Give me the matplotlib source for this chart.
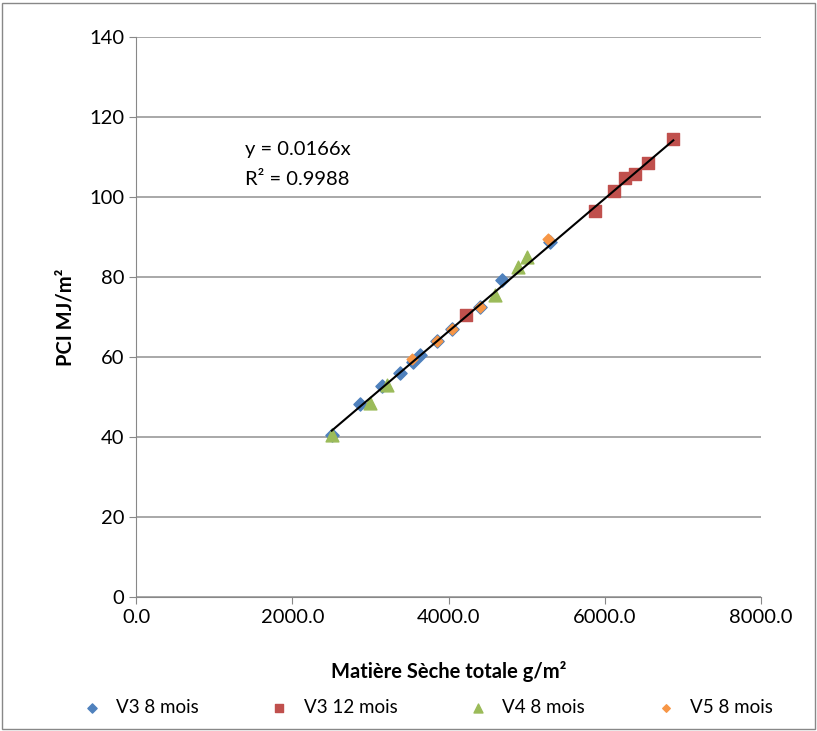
import matplotlib.pyplot as plt
from matplotlib.patches import Rectangle

plt.rcParams['font.family'] = ['Lato', 'DejaVu Sans']

# données
v3_8_x = [2509, 2867, 3145, 3379, 3546, 3635, 3849, 4041, 4403, 4681, 5299]
v3_8_y = [40.5, 48.2, 52.8, 56.1, 58.8, 60.5, 64.0, 67.0, 72.6, 79.2, 88.8]
v3_12_x = [4220, 5875, 6118, 6259, 6387, 6557, 6877]
v3_12_y = [70.4, 96.6, 101.5, 104.7, 105.7, 108.6, 114.4]
v4_8_x = [2505, 2995, 3209, 4595, 4890, 5001]
v4_8_y = [40.5, 48.4, 53.0, 75.5, 82.6, 85.1]
v5_8_x = [3529, 3849, 4041, 4403, 5277]
v5_8_y = [59.4, 64.1, 67.0, 72.6, 89.4]
slope = 0.0166

fig = plt.figure(figsize=(8.17, 7.31), dpi=100)
fig.patches.append(Rectangle((0.002, 0.003), 0.995, 0.993, transform=fig.transFigure,
                             fill=False, edgecolor='#888888', linewidth=1))
ax = fig.add_axes([0.1665, 0.1833, 0.765, 0.7661])

ax.scatter(v3_8_x, v3_8_y, marker='D', s=45, color='#4F81BD', label='V3 8 mois', zorder=3)
ax.scatter(v3_12_x, v3_12_y, marker='s', s=85, color='#C0504D', label='V3 12 mois', zorder=3)
ax.scatter(v4_8_x, v4_8_y, marker='^', s=85, color='#9BBB59', label='V4 8 mois', zorder=3)
ax.scatter(v5_8_x, v5_8_y, marker='D', s=30, color='#F79646', label='V5 8 mois', zorder=4)

all_x = v3_8_x + v3_12_x + v4_8_x + v5_8_x
xs = [min(all_x), max(all_x)]
ax.plot(xs, [slope * v for v in xs], color='black', linewidth=1.5, zorder=5)

ax.text(1400, 110.5, 'y = 0.0166x', fontsize=14.5)
ax.text(1400, 103, 'R² = 0.9988', fontsize=14.5)

ax.set_xlim(0, 8000)
ax.set_ylim(0, 140)
ax.set_xticks(range(0, 8001, 2000))
ax.set_xticklabels(['{:.1f}'.format(v) for v in range(0, 8001, 2000)])
ax.set_yticks(range(0, 141, 20))
ax.tick_params(labelsize=14.5, direction='out', color='#888888', length=5)
ax.grid(axis='y', color='#999999', linewidth=1.2)
ax.set_axisbelow(True)
for s in ['top', 'right']:
    ax.spines[s].set_visible(False)
for s in ['left', 'bottom']:
    ax.spines[s].set_color('#888888')

ax.set_xlabel('Matière Sèche totale g/m²', fontsize=14.5, fontweight='bold', labelpad=25)
ax.set_ylabel('PCI MJ/m²', fontsize=14.5, fontweight='bold', labelpad=10)

ax.legend(loc='upper center', bbox_to_anchor=(0.459, -0.152), ncol=4, frameon=False,
          fontsize=13.5, handletextpad=0.3, columnspacing=3.3, markerscale=0.7)

plt.savefig('out.png')
